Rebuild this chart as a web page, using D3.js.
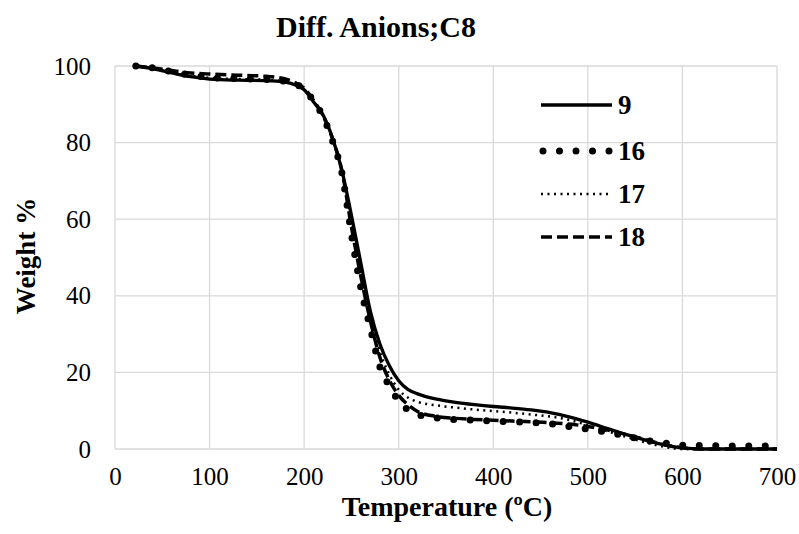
<!DOCTYPE html>
<html>
<head>
<meta charset="utf-8">
<script src="https://cdn.jsdelivr.net/npm/d3@7"></script>
<style>
    body { margin: 0; background: #fff; }
    text { font-family: "Liberation Serif", "Times New Roman", serif; fill: #000; }
</style>
</head>
<body>
<svg id="chart" width="799" height="534"></svg>
<script>
const temps = [22, 40, 60, 80, 100, 130, 160, 180, 190, 200, 210, 220, 230, 240, 250, 260, 270, 280, 290, 300,
    310, 320, 340, 360, 380, 400, 420, 440, 460, 480, 500, 520, 540, 560, 580, 600, 620, 650, 680, 700];

const s9 = [100, 99.3, 98.2, 97.2, 96.6, 96.3, 96.2, 95.8, 95.1, 93.8, 90.6, 87.2, 81.2, 72.7, 61, 48.5, 36, 27.5, 21.8, 17.8,
    15.5, 14.4, 13, 12.2, 11.6, 11.1, 10.7, 10.2, 9.5, 8.4, 7.0, 5.4, 3.8, 2.4, 1.1, 0.3, 0, 0, 0, 0];
const s16 = [100, 99.5, 98.5, 97.6, 97, 96.7, 96.5, 96, 95.3, 94, 90.8, 86.8, 80.5, 72, 56, 42, 31.5, 21.5, 16.5, 12.6,
    10.2, 9.0, 8.1, 7.7, 7.5, 7.3, 7.1, 6.9, 6.6, 5.9, 5.2, 4.4, 3.4, 2.3, 1.6, 1.0, 0.9, 0.8, 0.8, 0.8];
const s17 = [100, 99.3, 98.3, 97.4, 96.9, 96.6, 96.4, 95.9, 95.2, 93.9, 90.7, 87, 81, 72.5, 59.5, 46.5, 35, 25.5, 19.5, 15.5,
    13.4, 12.3, 11.4, 10.8, 10.3, 9.9, 9.5, 9.0, 8.5, 7.6, 6.2, 4.7, 3.2, 1.8, 0.6, 0, 0, 0, 0, 0];
const s18 = [100, 99.5, 98.8, 98.2, 97.9, 97.6, 97.3, 96.6, 95.7, 94.2, 91, 87, 81, 72.5, 58, 45, 33.5, 24, 18, 14,
    11.5, 9.8, 8.5, 8.0, 7.7, 7.5, 7.3, 7.1, 6.9, 6.5, 5.9, 5.0, 3.8, 2.5, 1.2, 0.3, 0, 0, 0, 0];

const seriesNames = ['9', '16', '17', '18'];
const seriesValues = [s9, s16, s17, s18];

const xTicks = [0, 100, 200, 300, 400, 500, 600, 700];
const yTicks = [0, 20, 40, 60, 80, 100];

// line looks per series (solid, round dots, small dots, dashes)
const styles = [
    {width: 3.3, dash: null, cap: 'butt'},
    {width: 7, dash: '0,16.5', cap: 'round'},
    {width: 2.5, dash: '2,4.5', cap: 'butt'},
    {width: 3.5, dash: '11,5', cap: 'butt'}
];

const margin = {top: 66, right: 22, bottom: 85, left: 115};
const W = 799, H = 534;
const width = W - margin.left - margin.right,
    height = H - margin.top - margin.bottom;

const svg = d3.select('#chart');
const g = svg.append('g').attr('transform', 'translate(' + margin.left + ',' + margin.top + ')');

let x = d3.scaleLinear().domain([0, 700]).range([0, width]);
let y = d3.scaleLinear().domain([0, 100]).range([height, 0]);

// grid
g.append('g').selectAll('line.h').data(yTicks).join('line')
    .attr('x1', 0).attr('x2', width)
    .attr('y1', d => y(d)).attr('y2', d => y(d))
    .attr('stroke', '#d9d9d9').attr('stroke-width', 1.3);
g.append('g').selectAll('line.v').data(xTicks).join('line')
    .attr('x1', d => x(d)).attr('x2', d => x(d))
    .attr('y1', 0).attr('y2', height)
    .attr('stroke', '#d9d9d9').attr('stroke-width', 1.3);

// axes (labels only, lines come from grid)
let xAxis = d3.axisBottom(x).tickValues(xTicks).tickSize(0).tickPadding(18);
g.append('g')
    .attr('transform', 'translate(0,' + height + ')')
    .call(xAxis)
    .call(a => a.select('.domain').remove())
    .selectAll('text').style('font-size', '25px').style('font-family', '"Liberation Serif", serif');

let yAxis = d3.axisLeft(y).tickValues(yTicks).tickSize(0).tickPadding(24);
g.append('g')
    .call(yAxis)
    .call(a => a.select('.domain').remove())
    .selectAll('text').style('font-size', '25px').style('font-family', '"Liberation Serif", serif');

// series
const line = d3.line()
    .x((d, i) => x(temps[i]))
    .y(d => y(d))
    .curve(d3.curveMonotoneX);

seriesValues.forEach(function (vals, k) {
    let st = styles[k];
    g.append('path')
        .datum(vals)
        .attr('d', line)
        .attr('fill', 'none')
        .attr('stroke', '#000')
        .attr('stroke-width', st.width)
        .attr('stroke-linecap', st.cap)
        .attr('stroke-linejoin', 'round')
        .attr('stroke-dasharray', st.dash);
});

// legend
const legendY = [105, 151, 194, 237];
const legend = svg.append('g');
seriesNames.forEach(function (name, k) {
    let st = styles[k];
    legend.append('line')
        .attr('x1', k === 1 ? 543 : 541).attr('x2', 612)
        .attr('y1', legendY[k]).attr('y2', legendY[k])
        .attr('stroke', '#000')
        .attr('stroke-width', st.width)
        .attr('stroke-linecap', st.cap)
        .attr('stroke-dasharray', st.dash);
    legend.append('text')
        .attr('x', 618).attr('y', legendY[k] + 9)
        .style('font-size', '27px').style('font-weight', 'bold')
        .text(name);
});

// titles
svg.append('text')
    .attr('x', 376).attr('y', 37)
    .attr('text-anchor', 'middle')
    .style('font-size', '30px').style('font-weight', 'bold')
    .text('Diff. Anions;C8');

svg.append('text')
    .attr('x', 447).attr('y', 516)
    .attr('text-anchor', 'middle')
    .style('font-size', '28px').style('font-weight', 'bold')
    .text('Temperature (ºC)');

svg.append('text')
    .attr('transform', 'translate(35,256) rotate(-90)')
    .attr('text-anchor', 'middle')
    .style('font-size', '27px').style('font-weight', 'bold')
    .text('Weight %');
</script>
</body>
</html>
